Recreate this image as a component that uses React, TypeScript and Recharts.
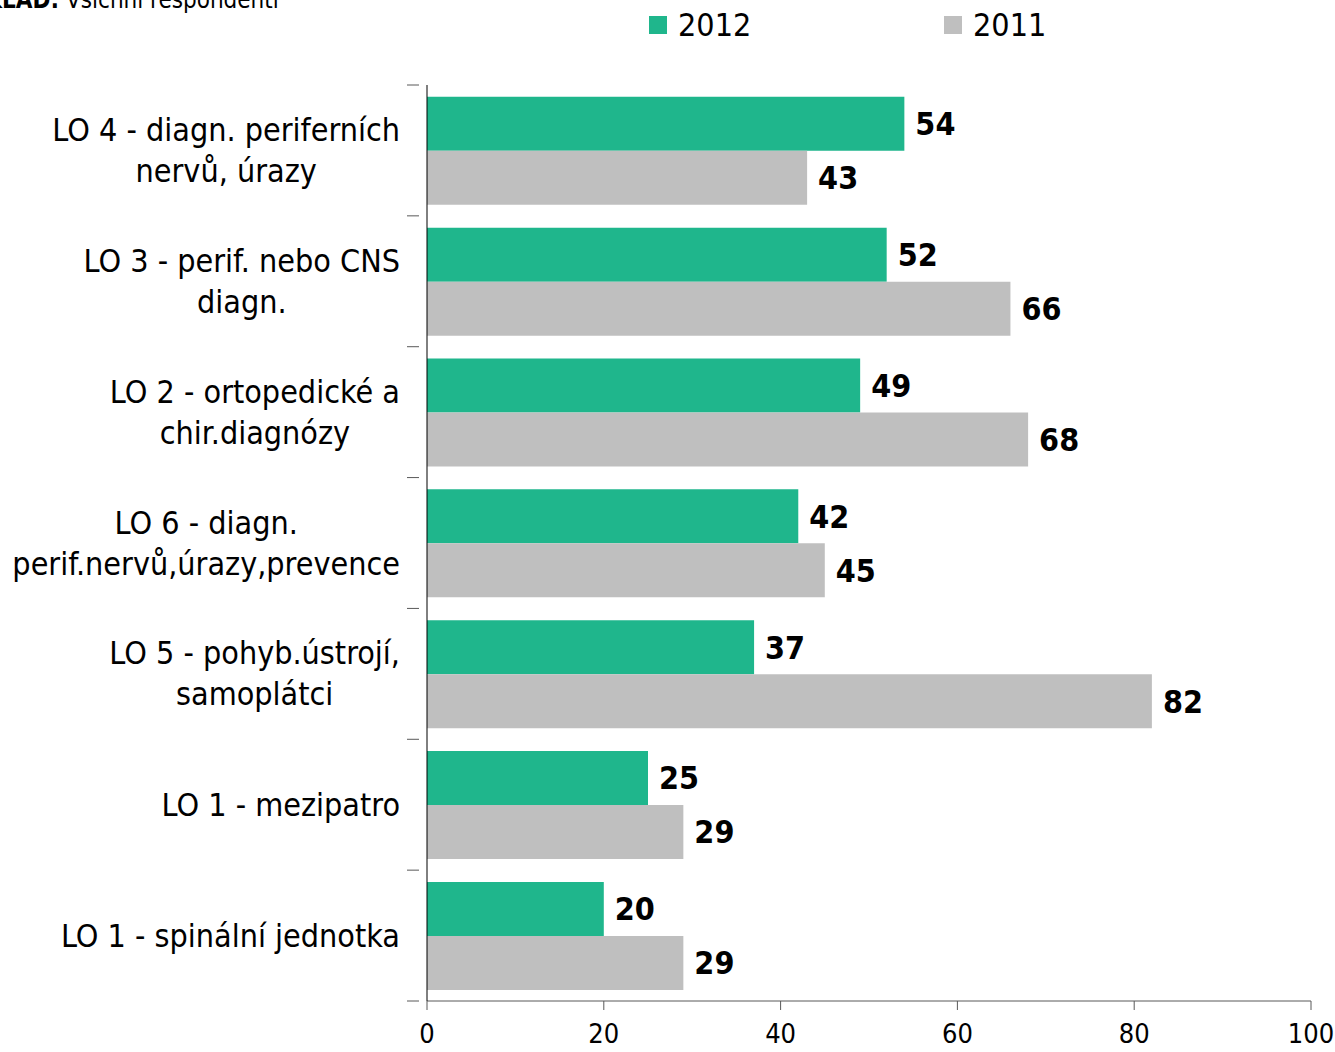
import React from "react";
import { Bar, BarChart, LabelList, Legend, XAxis, YAxis } from "recharts";

const categories = [
  "LO 4 - diagn. periferních|nervů, úrazy",
  "LO 3 - perif. nebo CNS|diagn.",
  "LO 2 - ortopedické a|chir.diagnózy",
  "LO 6 - diagn.|perif.nervů,úrazy,prevence",
  "LO 5 - pohyb.ústrojí,|samoplátci",
  "LO 1 - mezipatro",
  "LO 1 - spinální jednotka",
];
const values2012 = [54, 52, 49, 42, 37, 25, 20];
const values2011 = [43, 66, 68, 45, 82, 29, 29];
const xTicks = [0, 20, 40, 60, 80, 100];

const data = categories.map((name, i) => ({
  name,
  y2012: values2012[i],
  y2011: values2011[i],
}));

const FONT = "Tahoma, 'DejaVu Sans Condensed', 'DejaVu Sans', sans-serif";
const GREEN = "#1FB68C";
const GRAY = "#BFBFBF";
const AXIS = "#595959";

let ctx: CanvasRenderingContext2D | null = null;
function measure(text: string, size: number) {
  if (!ctx) ctx = document.createElement("canvas").getContext("2d");
  if (!ctx) return text.length * size * 0.5;
  ctx.font = `${size}px ${FONT}`;
  return ctx.measureText(text).width;
}

// label block centred on itself, right-aligned to the axis; tick marks sit on
// the category boundaries (Excel style) rather than the band centre
function CategoryTick(props: any) {
  const { x, y, payload, index, visibleTicksCount } = props;
  const lines: string[] = String(payload.value).split("|");
  const size = 32;
  const lh = 41;
  const half = payload.offset || 65;
  const maxW = Math.max(...lines.map((l) => measure(l, size)));
  const right = x - 19;
  const cx = right - maxW / 2;
  const startY = y - ((lines.length - 1) * lh) / 2;
  const isLast = index === visibleTicksCount - 1;
  return (
    <g>
      <line x1={x - 12} x2={x} y1={y - half} y2={y - half} stroke={AXIS} />
      {isLast && (
        <line x1={x - 12} x2={x} y1={y + half} y2={y + half} stroke={AXIS} />
      )}
      <text
        textAnchor="middle"
        fontFamily={FONT}
        fontSize={size}
        fill="#000"
        dominantBaseline="central"
      >
        {lines.map((l, i) => (
          <tspan key={i} x={cx} y={startY + i * lh}>
            {l}
          </tspan>
        ))}
      </text>
    </g>
  );
}

function LegendContent() {
  const items = [
    { label: "2012", color: GREEN, left: 649 },
    { label: "2011", color: GRAY, left: 944 },
  ];
  return (
    <div style={{ position: "relative", height: 50 }}>
      {items.map((it) => (
        <div
          key={it.label}
          style={{
            position: "absolute",
            left: it.left,
            top: 6,
            display: "flex",
            alignItems: "center",
            fontFamily: FONT,
            fontSize: 32,
            color: "#000",
          }}
        >
          <span
            style={{
              display: "inline-block",
              width: 18,
              height: 18,
              background: it.color,
              marginRight: 11,
            }}
          />
          {it.label}
        </div>
      ))}
    </div>
  );
}

export default function App() {
  return (
    <div
      style={{
        position: "absolute",
        left: 0,
        top: 0,
        width: 1335,
        height: 1052,
        background: "#fff",
        overflow: "hidden",
      }}
    >
      <svg
        width={1335}
        height={30}
        style={{ position: "absolute", left: 0, top: 0, zIndex: 2 }}
      >
        <text x={-47} y={8} fontFamily={FONT} fontSize={24} fill="#000">
          <tspan fontWeight="bold">ZÁKLAD:</tspan>
          <tspan> Všichni respondenti</tspan>
        </text>
      </svg>
      <BarChart
        width={1335}
        height={1052}
        data={data}
        layout="vertical"
        margin={{ top: 35, right: 24, left: 0, bottom: 0 }}
        barCategoryGap="9%"
        barGap={0}
      >
        <XAxis
          type="number"
          domain={[0, 100]}
          ticks={xTicks}
          height={51}
          stroke={AXIS}
          tickLine={{ stroke: AXIS }}
          tickSize={9}
          tick={{ fontFamily: FONT, fontSize: 27, fill: "#000" }}
          tickMargin={14}
        />
        <YAxis
          type="category"
          dataKey="name"
          width={427}
          stroke="#000"
          tickLine={false}
          tick={<CategoryTick />}
          interval={0}
        />
        <Legend
          verticalAlign="top"
          content={<LegendContent />}
          wrapperStyle={{ top: 0, left: 0, width: 1335 }}
        />
        <Bar dataKey="y2012" name="2012" fill={GREEN} isAnimationActive={false}>
          <LabelList
            dataKey="y2012"
            position="right"
            offset={11}
            fontFamily={FONT}
            fontSize={32}
            fontWeight="bold"
            fill="#000"
          />
        </Bar>
        <Bar dataKey="y2011" name="2011" fill={GRAY} isAnimationActive={false}>
          <LabelList
            dataKey="y2011"
            position="right"
            offset={11}
            fontFamily={FONT}
            fontSize={32}
            fontWeight="bold"
            fill="#000"
          />
        </Bar>
      </BarChart>
    </div>
  );
}
